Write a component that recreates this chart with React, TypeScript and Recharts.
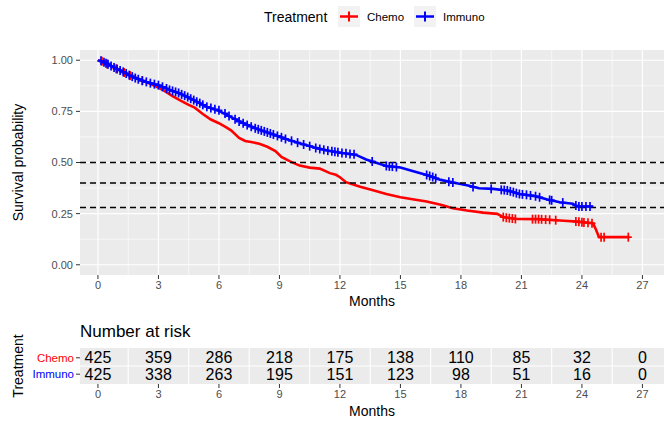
import React from 'react';
import { ComposedChart, Line, Scatter, XAxis, YAxis, ReferenceLine, ReferenceArea } from 'recharts';

const FONT = '"Liberation Sans", Arial, Helvetica, sans-serif';

// Kaplan-Meier curve readings (months, survival probability)
const chemoTime = [0, 0.3, 0.6, 1.0, 1.4, 1.8, 2.2, 2.6, 3.0, 3.3, 3.7, 4.1, 4.5, 4.8, 5.2, 5.6, 6.0, 6.3, 6.6, 7.0, 7.3, 7.6, 8.0, 8.4, 8.8, 9.1, 9.5, 10.0, 10.5, 11.0, 11.5, 11.8, 12.0, 12.3, 13.0, 13.6, 14.3, 15.0, 15.6, 16.3, 17.0, 17.6, 18.3, 19.1, 19.8, 20.1, 20.8, 21.8, 23.1, 23.8, 24.55, 24.7, 24.85, 26.35];
const chemoSurv = [1.0, 0.99, 0.975, 0.955, 0.937, 0.918, 0.9, 0.885, 0.866, 0.85, 0.824, 0.802, 0.782, 0.768, 0.737, 0.71, 0.692, 0.675, 0.657, 0.62, 0.605, 0.6, 0.592, 0.577, 0.556, 0.527, 0.507, 0.485, 0.475, 0.47, 0.448, 0.44, 0.428, 0.404, 0.382, 0.366, 0.346, 0.33, 0.32, 0.309, 0.293, 0.276, 0.265, 0.255, 0.249, 0.233, 0.224, 0.223, 0.215, 0.211, 0.203, 0.171, 0.135, 0.135];

const immunoTime = [0, 0.6, 1.1, 1.7, 2.4, 3.0, 3.6, 4.15, 4.7, 5.4, 6.05, 6.7, 7.4, 8.0, 8.7, 9.4, 10.0, 10.7, 11.5, 12.0, 12.8, 13.3, 13.8, 14.3, 15.0, 15.6, 16.3, 17.0, 17.6, 18.3, 18.9, 19.6, 20.3, 20.9, 21.6, 22.25, 22.9, 23.55, 23.75, 24.55];
const immunoSurv = [1.0, 0.976, 0.951, 0.92, 0.894, 0.878, 0.854, 0.833, 0.807, 0.772, 0.75, 0.717, 0.685, 0.66, 0.637, 0.612, 0.594, 0.574, 0.556, 0.548, 0.537, 0.515, 0.499, 0.483, 0.476, 0.459, 0.439, 0.415, 0.402, 0.389, 0.374, 0.371, 0.363, 0.346, 0.337, 0.32, 0.306, 0.298, 0.285, 0.285];

// Censoring marks
const chemoCensorTime = [0.2, 0.45, 0.9, 1.3, 1.6, 2.2, 20.1, 20.25, 20.4, 20.55, 20.7, 21.55, 21.7, 21.85, 22.0, 22.2, 22.4, 22.7, 23.7, 23.85, 24.0, 24.1, 24.3, 24.5, 24.95, 25.1, 26.3];
const chemoCensorSurv = [0.995, 0.982, 0.958, 0.94, 0.925, 0.9, 0.233, 0.23, 0.228, 0.226, 0.224, 0.223, 0.223, 0.223, 0.222, 0.221, 0.22, 0.218, 0.211, 0.21, 0.208, 0.207, 0.205, 0.203, 0.135, 0.135, 0.135];

const immunoCensorTime = [0.15, 0.3, 0.4, 0.5, 0.65, 0.8, 0.95, 1.1, 1.25, 1.4, 1.55, 1.7, 1.85, 2.0, 2.2, 2.4, 2.6, 2.8, 3.0, 3.2, 3.4, 3.55, 3.7, 3.85, 4.0, 4.15, 4.3, 4.45, 4.6, 4.75, 4.9, 5.05, 5.2, 5.4, 5.6, 5.8, 6.0, 6.3, 6.5, 6.8, 7.0, 7.2, 7.4, 7.6, 7.8, 7.95, 8.1, 8.25, 8.4, 8.55, 8.7, 8.9, 9.1, 9.3, 9.6, 9.9, 10.2, 10.5, 10.8, 11.0, 11.2, 11.4, 11.6, 11.75, 11.9, 12.1, 12.3, 12.5, 12.7, 13.6, 14.3, 14.45, 14.6, 14.8, 16.3, 16.45, 16.6, 16.75, 17.4, 17.6, 18.6, 19.5, 20.0, 20.15, 20.3, 20.45, 20.6, 20.75, 20.9, 21.05, 21.25, 21.45, 21.7, 21.9, 22.4, 22.5, 23.05, 23.7, 23.85, 24.0, 24.2, 24.4];
const immunoCensorSurv = [0.997, 0.99, 0.985, 0.98, 0.972, 0.965, 0.957, 0.95, 0.943, 0.935, 0.927, 0.92, 0.913, 0.907, 0.9, 0.894, 0.888, 0.883, 0.878, 0.87, 0.862, 0.855, 0.85, 0.845, 0.84, 0.833, 0.827, 0.82, 0.812, 0.805, 0.797, 0.79, 0.782, 0.772, 0.766, 0.76, 0.755, 0.74, 0.727, 0.712, 0.7, 0.692, 0.683, 0.675, 0.667, 0.662, 0.657, 0.652, 0.647, 0.642, 0.637, 0.63, 0.623, 0.615, 0.606, 0.597, 0.588, 0.58, 0.571, 0.566, 0.562, 0.558, 0.555, 0.553, 0.55, 0.547, 0.545, 0.542, 0.54, 0.505, 0.483, 0.481, 0.48, 0.478, 0.439, 0.434, 0.429, 0.423, 0.406, 0.402, 0.38, 0.371, 0.366, 0.365, 0.363, 0.359, 0.355, 0.35, 0.346, 0.344, 0.342, 0.339, 0.335, 0.33, 0.317, 0.315, 0.304, 0.29, 0.285, 0.285, 0.285, 0.285];

// Risk table
const riskTimes = [0, 3, 6, 9, 12, 15, 18, 21, 24, 27];
const chemoRisk = [425, 359, 286, 218, 175, 138, 110, 85, 32, 0];
const immunoRisk = [425, 338, 263, 195, 151, 123, 98, 51, 16, 0];

const xTicks = [0, 3, 6, 9, 12, 15, 18, 21, 24, 27];
const xMinor = [1.5, 4.5, 7.5, 10.5, 13.5, 16.5, 19.5, 22.5, 25.5];
const yTicks = [0, 0.25, 0.5, 0.75, 1];
const yMinor = [0.125, 0.375, 0.625, 0.875];
const refLines = [0.5, 0.4, 0.28];

const X_DOMAIN: [number, number] = [-0.89, 28.07];
const Y_DOMAIN: [number, number] = [-0.05, 1.05];

const RED = '#FF0000';
const BLUE = '#0000FF';
const PANEL = '#EBEBEB';

const pairs = (t: number[], s: number[]) => t.map((v, i) => ({ t: v, s: s[i] }));

const chemoCurve = pairs(chemoTime, chemoSurv);
const immunoCurve = pairs(immunoTime, immunoSurv);
const chemoCensor = pairs(chemoCensorTime, chemoCensorSurv);
const immunoCensor = pairs(immunoCensorTime, immunoCensorSurv);

const chemoRow = riskTimes.map((t, i) => ({ t, row: 2, n: chemoRisk[i] }));
const immunoRow = riskTimes.map((t, i) => ({ t, row: 1, n: immunoRisk[i] }));

const makeCross = (color: string) => (props: any) => {
  const { cx, cy } = props;
  if (cx == null || cy == null) return <g />;
  return (
    <g>
      <line x1={cx - 3.5} x2={cx + 3.5} y1={cy} y2={cy} stroke={color} strokeWidth={1.7} />
      <line x1={cx} x2={cx} y1={cy - 4.5} y2={cy + 4.5} stroke={color} strokeWidth={1.7} />
    </g>
  );
};

const RiskText = (props: any) => {
  const { cx, cy, payload } = props;
  if (cx == null || cy == null) return <g />;
  return (
    <text x={cx} y={cy} textAnchor="middle" dominantBaseline="central" fontSize={16} fontFamily={FONT} fill="#000">
      {payload.n}
    </text>
  );
};

const RiskYTick = (props: any) => {
  const { x, y, payload } = props;
  const isChemo = payload.value === 2;
  return (
    <text x={x} y={y} textAnchor="end" dominantBaseline="central" fontSize={11.5} fontFamily={FONT} fill={isChemo ? RED : BLUE}>
      {isChemo ? 'Chemo' : 'Immuno'}
    </text>
  );
};

const tickStyle = { fontSize: 11, fill: '#4D4D4D', fontFamily: FONT };
const tickLine = { stroke: '#333333', strokeWidth: 1 };

export default function App() {
  return (
    <div style={{ position: 'absolute', left: 0, top: 0, width: 664, height: 424, background: '#fff', fontFamily: FONT }}>
      <div style={{ position: 'absolute', left: 0, top: 0 }}>
        <ComposedChart width={664} height={310} margin={{ top: 50, right: 0, bottom: 0, left: 0 }}>
          <XAxis
            type="number"
            dataKey="t"
            domain={X_DOMAIN}
            ticks={xTicks}
            allowDataOverflow
            height={35}
            axisLine={false}
            tickLine={tickLine}
            tickSize={4}
            tickMargin={2}
            tick={tickStyle}
            interval={0}
          />
          <YAxis
            type="number"
            dataKey="s"
            domain={Y_DOMAIN}
            ticks={yTicks}
            allowDataOverflow
            width={80}
            axisLine={false}
            tickLine={tickLine}
            tickSize={4}
            tickMargin={3}
            tick={tickStyle}
            interval={0}
            tickFormatter={(v: number) => v.toFixed(2)}
          />
          <ReferenceArea x1={X_DOMAIN[0]} x2={X_DOMAIN[1]} y1={Y_DOMAIN[0]} y2={Y_DOMAIN[1]} fill={PANEL} fillOpacity={1} stroke="none" />
          {yMinor.map((v) => (
            <ReferenceLine key={'ym' + v} y={v} stroke="#fff" strokeWidth={0.6} />
          ))}
          {xMinor.map((v) => (
            <ReferenceLine key={'xm' + v} x={v} stroke="#fff" strokeWidth={0.6} />
          ))}
          {yTicks.map((v) => (
            <ReferenceLine key={'yM' + v} y={v} stroke="#fff" strokeWidth={1.2} />
          ))}
          {xTicks.map((v) => (
            <ReferenceLine key={'xM' + v} x={v} stroke="#fff" strokeWidth={1.2} />
          ))}
          <Line data={chemoCurve} dataKey="s" type="linear" stroke={RED} strokeWidth={2.6} dot={false} activeDot={false} isAnimationActive={false} />
          <Scatter data={chemoCensor} dataKey="s" shape={makeCross(RED)} isAnimationActive={false} />
          <Line data={immunoCurve} dataKey="s" type="linear" stroke={BLUE} strokeWidth={2.6} dot={false} activeDot={false} isAnimationActive={false} />
          <Scatter data={immunoCensor} dataKey="s" shape={makeCross(BLUE)} isAnimationActive={false} />
          {refLines.map((v) => (
            <ReferenceLine key={'ref' + v} y={v} stroke="#000" strokeWidth={1.4} strokeDasharray="6 4" />
          ))}
        </ComposedChart>
      </div>

      <div style={{ position: 'absolute', left: 0, top: 320 }}>
        <ComposedChart width={664} height={104} margin={{ top: 28, right: 0, bottom: 0, left: 0 }}>
          <XAxis
            type="number"
            dataKey="t"
            domain={X_DOMAIN}
            ticks={xTicks}
            allowDataOverflow
            height={40}
            axisLine={false}
            tickLine={tickLine}
            tickSize={4}
            tickMargin={2}
            tick={tickStyle}
            interval={0}
          />
          <YAxis
            type="number"
            dataKey="row"
            domain={[0.4, 2.6]}
            ticks={[1, 2]}
            allowDataOverflow
            width={80}
            axisLine={false}
            tickLine={tickLine}
            tickSize={4}
            tickMargin={2}
            tick={<RiskYTick />}
            interval={0}
          />
          <ReferenceArea x1={X_DOMAIN[0]} x2={X_DOMAIN[1]} y1={0.4} y2={2.6} fill={PANEL} fillOpacity={1} stroke="none" />
          {xMinor.map((v) => (
            <ReferenceLine key={'rxm' + v} x={v} stroke="#fff" strokeWidth={1.1} />
          ))}
          <ReferenceLine y={1.5} stroke="#fff" strokeWidth={1.1} />
          <Scatter data={chemoRow} dataKey="row" shape={<RiskText />} isAnimationActive={false} />
          <Scatter data={immunoRow} dataKey="row" shape={<RiskText />} isAnimationActive={false} />
        </ComposedChart>
      </div>

      <svg width={664} height={424} style={{ position: 'absolute', left: 0, top: 0, pointerEvents: 'none' }} fontFamily={FONT}>
        {/* legend */}
        <text x={264} y={17} fontSize={14} dominantBaseline="central" fill="#000">Treatment</text>
        <rect x={338} y={6} width={22} height={21} fill="#F2F2F2" />
        <line x1={340} x2={358} y1={16.5} y2={16.5} stroke={RED} strokeWidth={2.5} />
        <line x1={349} x2={349} y1={11.5} y2={21.5} stroke={RED} strokeWidth={2} />
        <text x={367} y={17} fontSize={11.5} dominantBaseline="central" fill="#000">Chemo</text>
        <rect x={414} y={6} width={22} height={21} fill="#F2F2F2" />
        <line x1={416} x2={434} y1={16.5} y2={16.5} stroke={BLUE} strokeWidth={2.5} />
        <line x1={425} x2={425} y1={11.5} y2={21.5} stroke={BLUE} strokeWidth={2} />
        <text x={443} y={17} fontSize={11.5} dominantBaseline="central" fill="#000">Immuno</text>

        {/* axis titles */}
        <text x={18} y={162.5} fontSize={14} textAnchor="middle" dominantBaseline="central" transform="rotate(-90 18 162.5)" fill="#000">Survival probability</text>
        <text x={372} y={301} fontSize={14} textAnchor="middle" dominantBaseline="central" fill="#000">Months</text>

        <text x={80} y={331.5} fontSize={17} dominantBaseline="central" fill="#000">Number at risk</text>
        <text x={18} y={366} fontSize={14} textAnchor="middle" dominantBaseline="central" transform="rotate(-90 18 366)" fill="#000">Treatment</text>
        <text x={372} y={411} fontSize={14} textAnchor="middle" dominantBaseline="central" fill="#000">Months</text>
      </svg>
    </div>
  );
}
